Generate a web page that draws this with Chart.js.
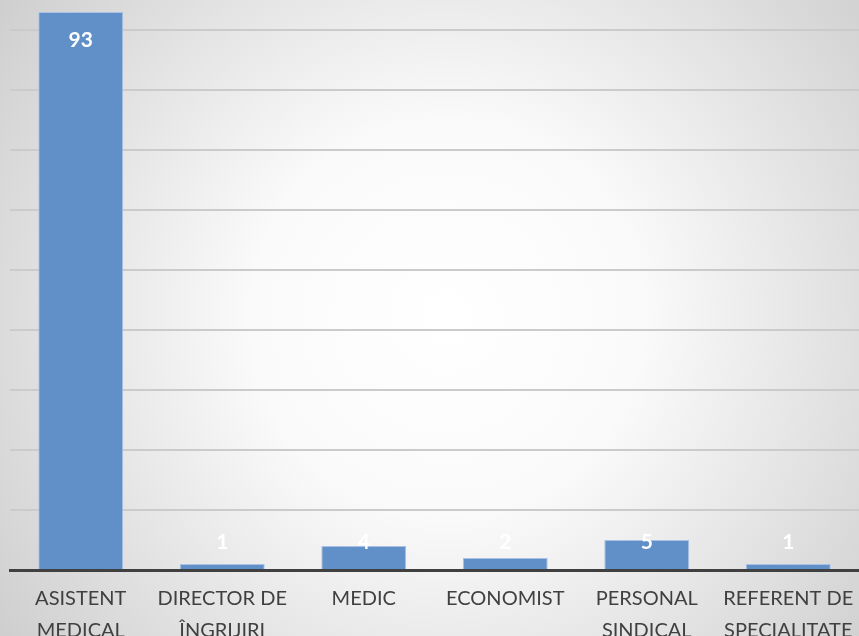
<!DOCTYPE html>
<html>
<head>
<meta charset="utf-8">
<script src="https://cdn.jsdelivr.net/npm/chart.js@4"></script>
<style>
  html, body { margin: 0; padding: 0; background: #fff; }
  #wrap { width: 859px; height: 636px; }
</style>
</head>
<body>
<div id="wrap"><canvas id="grafico" width="859" height="636"></canvas></div>
<script>
// categorias e valores
const categorias = [
    ['ASISTENT', 'MEDICAL'],
    ['DIRECTOR DE', 'ÎNGRIJIRI'],
    'MEDIC',
    'ECONOMIST',
    ['PERSONAL', 'SINDICAL'],
    ['REFERENT DE', 'SPECIALITATE']
];
const valores = [93, 1, 4, 2, 5, 1];

// fundo com gradiente radial (claro no centro)
const fundo = {
    id: 'fundo',
    beforeDraw(chart) {
        const ctx = chart.ctx;
        const w = chart.width, h = chart.height;
        const g = ctx.createRadialGradient(w * 0.52, h * 0.5, 0, w * 0.52, h * 0.5, 560);
        g.addColorStop(0, '#ffffff');
        g.addColorStop(0.35, '#fafafa');
        g.addColorStop(1, '#cdcdcd');
        ctx.save();
        ctx.fillStyle = g;
        ctx.fillRect(0, 0, w, h);
        ctx.restore();
    }
};

// rótulos de valor em branco, perto do topo da barra
const rotulos = {
    id: 'rotulos',
    afterDatasetsDraw(chart) {
        const ctx = chart.ctx;
        const meta = chart.getDatasetMeta(0);
        ctx.save();
        ctx.fillStyle = '#ffffff';
        ctx.font = 'bold 21px Lato, "Open Sans", sans-serif';
        ctx.textAlign = 'center';
        ctx.textBaseline = 'middle';
        meta.data.forEach((bar, i) => {
            const y = Math.min(bar.y + 28, bar.base - 27);
            ctx.fillText(String(valores[i]), bar.x, y);
        });
        ctx.restore();
    }
};

const ctx = document.getElementById('grafico').getContext('2d');
const grafico = new Chart(ctx, {
    type: 'bar',
    data: {
        labels: categorias,
        datasets: [{
            data: valores,
            backgroundColor: '#6190c8',
            borderColor: '#a7c2e6',
            borderWidth: 1,
            barPercentage: 0.6,
            categoryPercentage: 1
        }]
    },
    options: {
        responsive: false,
        animation: false,
        layout: { padding: { left: 0, right: 0, top: 0, bottom: 0 } },
        plugins: {
            legend: { display: false },
            tooltip: { enabled: false }
        },
        scales: {
            x: {
                grid: { display: false },
                border: { display: true, color: '#404040', width: 3 },
                ticks: {
                    color: '#404040',
                    font: { family: 'Lato, "Open Sans", sans-serif', size: 20, lineHeight: 1.6 },
                    padding: 5,
                    maxRotation: 0,
                    autoSkip: false
                },
                afterFit: s => {
                    s.height = 66;
                    s.paddingLeft = 0;
                    s.paddingRight = 0;
                }
            },
            y: {
                min: 0,
                max: 95,
                ticks: { display: false, stepSize: 10, includeBounds: false },
                grid: { color: '#cbcbcb', lineWidth: 2, drawTicks: false },
                border: { display: false },
                afterFit: s => { s.width = 10; }
            }
        }
    },
    plugins: [fundo, rotulos]
});
</script>
</body>
</html>
